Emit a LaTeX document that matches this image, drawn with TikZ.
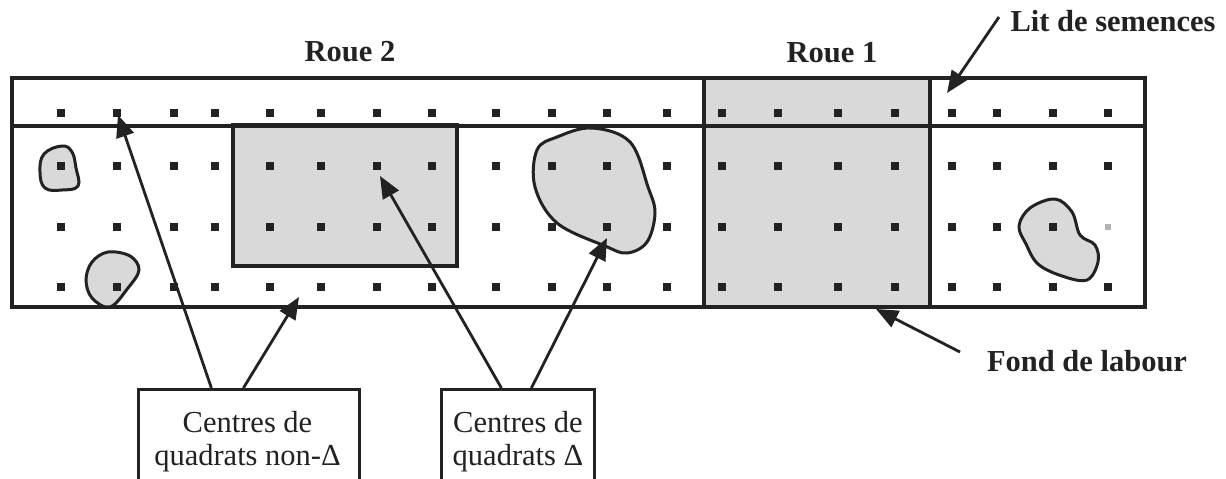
\documentclass[tikz,border=0pt]{standalone}
\usepackage{fontspec}
\setmainfont{Liberation Serif}
\usetikzlibrary{arrows.meta}
\definecolor{fillgray}{HTML}{D9D9D9}
\definecolor{ink}{HTML}{222222}
\begin{document}
\begin{tikzpicture}[x=1pt,y=-1pt,
  border/.style={draw=ink,line width=3.2pt},
  blob/.style={draw=ink,line width=3pt,fill=fillgray},
  lbl/.style={font=\fontsize{30.5}{34}\selectfont\bfseries,text=ink,inner sep=0pt,anchor=base},
  boxtext/.style={font=\fontsize{30.5}{33}\selectfont,text=ink,align=center,inner sep=0pt,anchor=north},
  callout/.style={draw=ink,line width=2.8pt,fill=white,inner sep=0pt,anchor=north west},
  arr/.style={draw=ink,line width=2.8pt,-{Triangle[length=22pt,width=18pt]}},
  qdot/.style={fill=ink}
  ]
\useasboundingbox (0,0) rectangle (1226,479);
\clip (0,0) rectangle (1226,479);
\fill[white] (0,0) rectangle (1226,479);

% field
\draw[border,fill=white] (12,78) rectangle (1145,307);
% wheel 2 rut
\draw[border,fill=fillgray] (233,125) rectangle (457,266);
% wheel 1 rut
\draw[border,fill=fillgray] (704,78) rectangle (930,307);
% seedbed line
\draw[border] (12,126) -- (1145,126);

% patches
\draw[blob] plot[smooth cycle,tension=0.7] coordinates
  {(62,146) (72,152) (76,168) (78,186) (62,190) (45,188) (40,172) (44,154)};
\draw[blob] plot[smooth cycle,tension=0.6] coordinates
  {(108,252) (130,256) (139,270) (128,288) (110,307) (92,298) (86,280) (92,262)};
\draw[blob] plot[smooth cycle,tension=0.6] coordinates
  {(592,128) (630,142) (648,187) (655,213) (647,242) (627,253) (605,246) (557,223) (535,187) (537,150) (557,137)};
\draw[blob] plot[smooth cycle,tension=0.6] coordinates
  {(1055,199) (1072,212) (1080,235) (1095,245) (1098,262) (1087,280) (1062,276) (1038,264) (1026,244) (1019,226) (1030,208)};

% quadrat centres
\foreach \x in {61,117,174,215,270,321,377,432,496,552,607,667,722,778,838,895,952,997,1053,1108}{
  \foreach \y in {113,166,287}{\fill[qdot] (\x-4,\y-4) rectangle ++(8,8);}
}
\foreach \x in {61,117,174,215,270,321,377,432,496,552,607,667,722,778,838,895,952,997,1053}{
  \fill[qdot] (\x-4,227-4) rectangle ++(8,8);
}
\fill[gray!60] (1108-3,227-3) rectangle ++(6,6);

% labels
\node[lbl] (roue2) at (350,61) {Roue 2};
\node[lbl] (roue1) at (832,62) {Roue 1};
\node[lbl] (lit) at (1113,31) {Lit de semences};
\node[lbl] (fond) at (1087,371) {Fond de labour};

% callout boxes
\node[callout,minimum width=221pt,minimum height=110pt] (b1) at (137,388) {};
\node[callout,minimum width=153pt,minimum height=110pt] (b2) at (440,388) {};
\node[boxtext] (b1t) at (247.5,411) {Centres de\\quadrats non-Δ};
\node[boxtext] (b2t) at (518,411) {Centres de\\quadrats Δ};

% arrow targets
\coordinate (t1) at (118,115);
\coordinate (t2) at (299,297);
\coordinate (t3) at (380,176);
\coordinate (t4) at (607,238);
\coordinate (litfrom) at (999,17);
\coordinate (littip) at (947,93);
\coordinate (fondfrom) at (960,352);
\coordinate (fondtip) at (876,309);

\draw[arr] ([xshift=-37.5pt]b1.north) -- (t1);
\draw[arr] ([xshift=-5.5pt]b1.north) -- (t2);
\draw[arr] ([xshift=-16.5pt]b2.north) -- (t3);
\draw[arr] ([xshift=13.5pt]b2.north) -- (t4);
\draw[arr] (litfrom) -- (littip);
\draw[arr] (fondfrom) -- (fondtip);
\end{tikzpicture}
\end{document}
